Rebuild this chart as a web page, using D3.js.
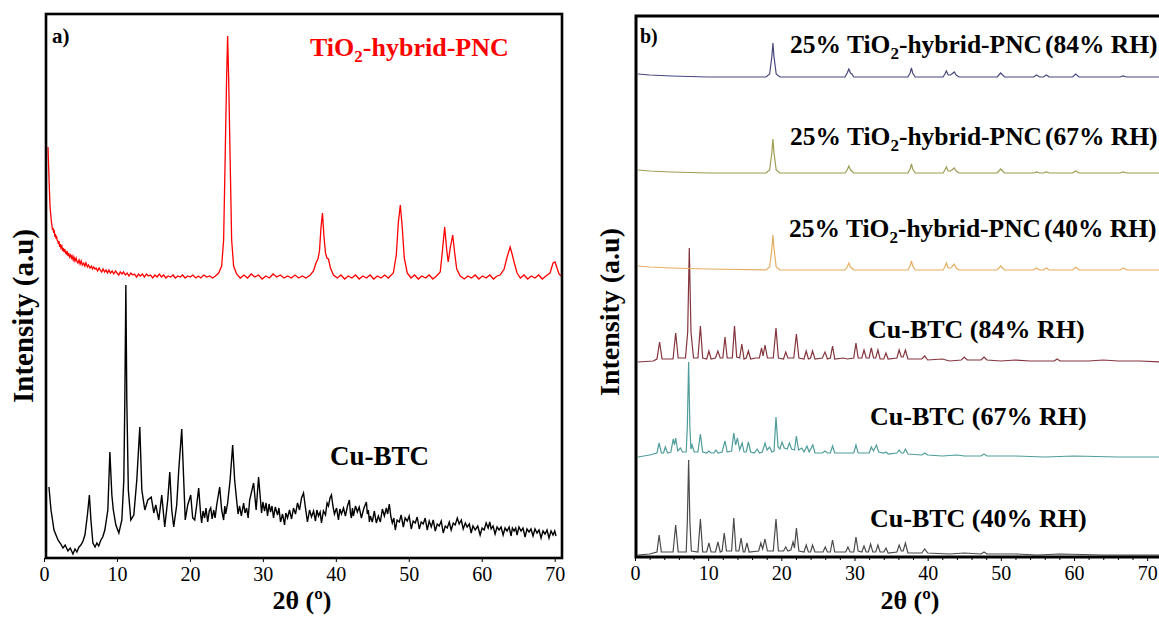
<!DOCTYPE html>
<html>
<head>
<meta charset="utf-8">
<script src="https://cdn.jsdelivr.net/npm/d3@7.9.0/dist/d3.min.js"></script>
<style>
  body { margin: 0; background: #fff; }
  svg { display: block; font-family: "Liberation Serif", "Times New Roman", serif; }
</style>
</head>
<body>
<svg width="1159" height="618"></svg>
<script>
// ---- data: [2theta (deg), intensity (a.u.)] ----
const ticksA = [0, 10, 20, 30, 40, 50, 60, 70];
const ticksB = [0, 10, 20, 30, 40, 50, 60, 70];

// panel a, TiO2-hybrid-PNC (red)
const tio2A = [[0.55,411],[0.6,398],[0.66,386],[0.72,372],[0.78,360],[0.84,350],[0.92,344],[1.0,337],[1.08,333],[1.16,328],[1.25,330],[1.33,325],[1.4,328],[1.5,321],[1.57,324],[1.66,319],[1.72,322],[1.8,318],[1.9,317],[1.98,314],[2.05,317],[2.15,311],[2.25,314],[2.32,310],[2.45,312],[2.55,307],[2.62,310],[2.75,306],[2.85,309],[2.95,305],[3.05,304],[3.15,307],[3.3,302],[3.4,305],[3.5,301],[3.65,303],[3.75,300],[3.85,302],[4.0,298],[4.1,301],[4.25,297],[4.4,300],[4.5,297],[4.65,295],[4.8,298],[4.95,294],[5.1,297],[5.25,293],[5.45,295],[5.6,292],[5.75,295],[5.95,291],[6.1,293],[6.3,290],[6.5,292],[6.65,289],[6.8,291],[7.0,289],[7.15,290],[7.35,287],[7.55,290],[7.7,288],[7.9,286],[8.1,289],[8.3,286],[8.5,288],[8.7,285],[8.9,288],[9.1,285],[9.35,287],[9.55,284],[9.8,287],[10.0,285],[10.25,283],[10.45,286],[10.7,284],[10.9,286],[11.15,283],[11.4,285],[11.65,282],[11.9,285],[12.15,283],[12.4,284],[12.7,281],[12.95,284],[13.2,282],[13.5,284],[13.75,281],[14.05,284],[14.3,282],[14.6,283],[14.9,280],[15.2,283],[15.5,281],[15.8,284],[16.1,281],[16.4,283],[16.7,280],[17.0,282],[17.35,281],[17.7,283],[18.0,280],[18.35,282],[18.7,281],[19.0,283],[19.35,280],[19.7,282],[20.05,281],[20.4,283],[20.8,280],[21.15,282],[21.5,280],[21.9,283],[22.3,281],[22.7,282],[23.1,280],[23.5,282],[23.94,285],[24.35,292],[24.62,318],[24.83,400],[25.03,480],[25.17,522],[25.31,480],[25.51,400],[25.72,318],[25.99,292],[26.4,284],[26.9,280],[27.4,283],[27.9,280],[28.4,284],[28.9,281],[29.4,283],[29.9,279],[30.4,282],[30.9,280],[31.4,284],[31.9,281],[32.4,283],[32.9,280],[33.4,282],[33.9,280],[34.4,283],[34.9,280],[35.4,282],[35.9,280],[36.5,283],[36.94,287],[37.28,295],[37.55,299],[37.76,307],[37.96,330],[38.17,345],[38.37,322],[38.58,305],[38.78,300],[38.99,299],[39.26,290],[39.67,283],[40.2,280],[40.7,283],[41.2,279],[41.7,282],[42.2,280],[42.7,283],[43.2,279],[43.7,282],[44.2,280],[44.7,283],[45.2,279],[45.7,282],[46.2,280],[46.7,283],[47.2,280],[47.88,285],[48.29,303],[48.56,335],[48.84,353],[49.11,330],[49.38,300],[49.79,285],[50.3,280],[50.8,283],[51.3,279],[51.8,282],[52.3,280],[52.8,283],[53.3,279],[53.8,282],[54.31,286],[54.58,305],[54.92,331],[55.2,308],[55.4,296],[55.68,310],[56.02,323],[56.29,305],[56.57,289],[57.05,282],[57.6,279],[58.1,282],[58.6,280],[59.1,283],[59.6,279],[60.1,282],[60.6,280],[61.1,283],[61.6,279],[62.1,282],[62.52,283],[63.07,289],[63.48,301],[63.89,311],[64.16,304],[64.5,294],[64.84,285],[65.3,280],[65.8,283],[66.3,279],[66.8,282],[67.3,280],[67.8,283],[68.3,279],[68.81,282],[69.36,285],[69.77,295],[70.04,296],[70.32,290],[70.59,284],[70.86,282]];

// panel a, Cu-BTC (black)
const cubtcA = [[0.68,71],[0.96,48],[1.37,28],[1.92,18],[2.3,14],[2.6,10],[2.9,13],[3.28,7],[3.6,10],[3.97,4],[4.25,9],[4.51,6],[4.8,11],[5.06,13],[5.35,17],[5.61,23],[5.95,43],[6.22,63],[6.43,38],[6.7,15],[7.0,11],[7.25,15],[7.5,12],[7.8,18],[8.05,21],[8.34,28],[8.75,48],[9.03,106],[9.3,63],[9.5,48],[9.85,33],[10.26,25],[10.67,38],[10.94,78],[11.08,158],[11.22,273],[11.35,158],[11.56,68],[11.9,38],[12.31,43],[12.72,78],[13.13,131],[13.41,68],[13.82,48],[14.23,58],[14.7,61],[15.05,45],[15.32,53],[15.73,38],[16.14,63],[16.55,31],[16.96,58],[17.24,86],[17.51,48],[17.78,31],[18.19,53],[18.47,88],[18.88,129],[19.15,78],[19.36,38],[19.7,53],[20.11,63],[20.38,40],[20.66,38],[20.93,53],[21.2,70],[21.48,43],[21.61,35],[21.8,47],[22.02,40],[22.2,50],[22.44,36],[22.65,47],[22.85,50],[23.05,39],[23.26,48],[23.45,40],[23.67,53],[24.08,71],[24.35,48],[24.62,38],[24.78,52],[24.9,44],[25.17,55],[25.51,78],[25.86,113],[26.13,78],[26.4,58],[26.6,44],[26.81,52],[27.05,42],[27.36,55],[27.55,45],[27.77,50],[27.98,40],[28.19,58],[28.73,75],[29.08,48],[29.41,81],[29.82,45],[30.0,56],[30.23,47],[30.44,55],[30.64,42],[30.85,54],[31.05,46],[31.25,52],[31.46,40],[31.7,51],[32.01,43],[32.2,50],[32.42,36],[32.7,44],[32.97,33],[33.15,45],[33.38,40],[33.65,48],[33.93,39],[34.2,50],[34.47,44],[34.75,55],[35.02,48],[35.3,60],[35.57,65],[35.84,50],[36.11,36],[36.4,48],[36.66,41],[36.95,47],[37.21,37],[37.4,48],[37.62,42],[37.85,46],[38.03,35],[38.3,47],[38.58,43],[38.8,55],[38.99,52],[39.2,60],[39.4,63],[39.6,52],[39.81,44],[40.1,50],[40.36,38],[40.55,49],[40.77,44],[41.05,50],[41.31,42],[41.6,52],[41.86,58],[42.0,45],[42.13,40],[42.28,50],[42.41,42],[42.7,52],[42.95,46],[43.2,51],[43.5,40],[43.85,50],[44.19,56],[44.32,44],[44.46,48],[44.6,36],[44.73,42],[45.0,36],[45.28,47],[45.55,35],[45.83,42],[46.1,36],[46.38,49],[46.65,42],[46.92,50],[47.1,44],[47.33,54],[47.55,41],[47.74,35],[47.95,40],[48.15,28],[48.4,38],[48.7,36],[48.95,43],[49.25,31],[49.5,40],[49.8,37],[50.05,42],[50.34,29],[50.6,37],[50.89,35],[51.15,41],[51.44,29],[51.7,36],[51.98,34],[52.25,40],[52.53,28],[52.8,37],[53.08,31],[53.35,38],[53.63,27],[53.9,34],[54.17,32],[54.45,37],[54.72,25],[55.0,32],[55.27,30],[55.55,36],[55.81,28],[56.1,35],[56.36,33],[56.65,40],[56.91,34],[57.2,38],[57.46,29],[57.75,35],[58.0,31],[58.3,34],[58.55,25],[58.8,32],[59.1,28],[59.45,32],[59.78,23],[60.05,30],[60.33,28],[60.6,35],[60.88,30],[61.1,36],[61.29,29],[61.55,32],[61.83,24],[62.1,31],[62.38,28],[62.65,31],[62.93,23],[63.2,30],[63.47,27],[63.75,31],[64.02,22],[64.2,30],[64.43,27],[64.65,30],[64.84,23],[65.1,31],[65.39,27],[65.65,30],[65.94,21],[66.2,29],[66.48,26],[66.75,29],[67.03,22],[67.3,29],[67.58,25],[67.85,28],[68.13,20],[68.4,27],[68.67,24],[68.95,28],[69.22,20],[69.5,27],[69.77,23],[70.0,27],[70.18,22]];

// panel b, stacked patterns (values above their own baseline) and stack offsets
const tio2_84B = [[0.4,3],[2,2],[5,1],[10,0],[15,0],[17.9,0],[18.4,3],[18.7,20],[18.85,34],[19.0,20],[19.3,3],[19.8,0],[25,0],[28.7,0],[29.0,4],[29.23,8],[29.45,4],[29.63,3],[29.9,0],[35,0],[37.3,0],[37.6,4],[37.78,9],[37.95,4],[38.3,0],[42.1,0],[42.35,3],[42.56,6],[42.8,2],[43.1,2],[43.3,3],[43.64,5],[43.9,2],[44.3,0],[49.5,0],[49.98,4],[50.5,0],[54.5,0],[54.86,2],[55.3,0],[55.8,0],[56.23,2],[56.6,0],[59.8,0],[60.23,3],[60.7,0],[66.3,0],[66.72,1],[67.2,0],[72,0]];
const tio2_67B = [[0.4,3],[2,2],[5,1],[10,0],[17.9,0],[18.4,3],[18.7,20],[18.85,34],[19.0,20],[19.3,3],[19.8,0],[28.7,0],[29.0,3],[29.23,7],[29.45,3],[29.63,2],[29.9,0],[37.3,0],[37.6,4],[37.78,9],[37.95,4],[38.3,0],[42.1,0],[42.35,3],[42.56,6],[42.8,2],[43.1,2],[43.3,3],[43.64,5],[43.9,2],[44.3,0],[49.5,0],[49.98,4],[50.5,0],[54.5,0],[54.86,1],[55.3,0],[55.8,0],[56.23,1],[56.6,0],[59.8,0],[60.23,2],[60.7,0],[66.3,0],[66.72,1],[67.2,0],[72,0]];
const tio2_40B = [[0.4,4],[2,3],[5,2],[10,1],[17.9,0],[18.4,3],[18.7,21],[18.85,35],[19.0,21],[19.3,3],[19.8,0],[28.7,0],[29.0,3],[29.23,7],[29.45,3],[29.63,2],[29.9,0],[37.3,0],[37.6,4],[37.78,9],[37.95,4],[38.3,0],[42.1,0],[42.35,3],[42.56,7],[42.8,2],[43.1,2],[43.3,3],[43.64,6],[43.9,2],[44.3,0],[49.5,0],[49.98,4],[50.5,0],[54.5,0],[54.86,2],[55.3,0],[55.8,0],[56.23,2],[56.6,0],[59.8,0],[60.23,3],[60.7,0],[66.3,0],[66.72,2],[67.2,0],[72,0]];
const cubtc_84B = [[0.4,0],[2.5,1],[3.0,3],[3.36,20],[3.7,3],[5.2,3],[5.56,29],[5.9,4],[6.9,4],[7.2,30],[7.42,114],[7.65,30],[8.0,4],[8.6,4],[8.94,36],[9.25,4],[9.8,3],[10.1,11],[10.4,3],[11.0,4],[11.33,11],[11.65,4],[12.0,4],[12.3,25],[12.6,4],[13.3,4],[13.6,36],[13.9,5],[14.3,4],[14.6,18],[14.9,3],[15.2,4],[15.5,11],[15.8,3],[16.5,4],[17.0,4],[17.3,14],[17.5,6],[17.77,17],[18.1,4],[18.9,4],[19.27,34],[19.6,4],[20.3,3],[20.6,10],[20.9,4],[21.7,4],[22.06,28],[22.4,4],[23.1,3],[23.4,11],[23.7,3],[24.0,4],[24.26,11],[24.6,3],[25.6,4],[25.97,10],[26.3,3],[26.7,4],[27.0,16],[27.3,3],[28.5,4],[29.0,3],[29.9,4],[30.2,19],[30.5,4],[31.0,4],[31.3,12],[31.6,4],[32.0,4],[32.3,14],[32.6,4],[32.9,4],[33.2,12],[33.5,3],[34.0,3],[34.3,9],[34.6,3],[35.8,4],[36.1,12],[36.4,5],[36.65,5],[36.96,12],[37.3,3],[39.2,3],[39.6,6],[40.0,2],[42,3],[43,1],[44.6,2],[45,5],[45.4,2],[47.3,2],[47.7,5],[48.1,2],[50,1],[52,2],[54,1],[57.3,1],[57.7,3],[58.1,1],[62,1],[64,2],[66,1],[69,1],[72,0]];
const cubtc_67B = [[0.4,0],[2.0,2],[3.0,4],[3.3,14],[3.6,4],[3.9,4],[4.15,10],[4.45,4],[4.9,5],[5.22,18],[5.4,12],[5.56,19],[5.85,6],[6.2,9],[6.5,5],[7.0,5],[7.15,30],[7.33,95],[7.5,30],[7.65,8],[7.8,12],[8.1,5],[8.6,5],[8.94,23],[9.25,5],[9.8,4],[10.1,6],[10.4,4],[10.8,4],[11.05,7],[11.35,4],[11.9,5],[12.3,16],[12.6,5],[13.2,6],[13.5,24],[13.75,12],[14.0,19],[14.3,7],[14.64,14],[14.9,5],[15.2,5],[15.5,15],[15.8,5],[16.3,4],[16.7,8],[17.0,4],[17.4,5],[17.77,14],[18.05,7],[18.4,10],[18.7,5],[19.0,6],[19.27,40],[19.55,10],[19.8,8],[20.1,15],[20.4,9],[20.8,8],[21.1,14],[21.4,8],[21.8,7],[22.06,21],[22.35,7],[22.8,9],[23.1,5],[23.5,11],[23.8,5],[24.3,12],[24.6,4],[25.6,4],[25.97,6],[26.3,4],[26.7,4],[27.0,11],[27.3,4],[28.5,4],[29.9,4],[30.2,12],[30.5,4],[31.5,4],[32.0,4],[32.3,10],[32.6,6],[33.0,12],[33.3,5],[34.0,4],[34.3,5],[34.6,3],[35.8,4],[36.1,7],[36.4,4],[36.7,4],[36.96,8],[37.3,3],[39.2,2],[39.6,4],[40.0,2],[42,1],[44,2],[45,1],[47.3,1],[47.7,3],[48.1,1],[52,1],[56,0],[60,1],[66,0],[72,0]];
const cubtc_40B = [[0.4,2],[2.0,3],[3.0,5],[3.3,22],[3.6,5],[5.2,5],[5.56,32],[5.9,5],[7.0,5],[7.15,35],[7.33,97],[7.5,35],[7.7,6],[8.6,5],[8.94,38],[9.25,5],[9.8,5],[10.1,14],[10.4,5],[11.0,5],[11.33,15],[11.65,5],[11.9,6],[12.2,24],[12.5,6],[13.2,6],[13.5,39],[13.8,6],[14.2,6],[14.5,19],[14.8,5],[15.0,5],[15.3,14],[15.6,5],[16.9,6],[17.2,14],[17.45,8],[17.77,18],[18.1,6],[18.9,6],[19.27,38],[19.6,6],[20.3,6],[20.6,10],[20.9,6],[21.3,7],[21.6,15],[21.8,9],[22.06,29],[22.4,6],[23.1,5],[23.4,12],[23.7,5],[24.0,5],[24.26,12],[24.6,5],[25.7,5],[26.0,10],[26.3,5],[26.7,5],[27.0,17],[27.3,5],[28.8,5],[29.1,10],[29.4,5],[29.9,5],[30.2,20],[30.5,6],[31.0,5],[31.3,11],[31.6,5],[31.9,5],[32.2,13],[32.5,5],[32.9,5],[33.2,12],[33.5,5],[34.0,5],[34.3,9],[34.6,4],[35.8,5],[36.1,12],[36.4,6],[36.65,6],[36.96,14],[37.3,4],[39.2,4],[39.6,8],[40.0,4],[43,3],[45,4],[47.3,3],[47.7,5],[48.1,3],[52,3],[55,2],[58,3],[64,2],[72,2]];

const seriesB = [cubtc_40B, cubtc_67B, cubtc_84B, tio2_40B, tio2_67B, tio2_84B];
const offsetsB = [0, 100, 195, 287, 384, 480];
const labelsB = ['Cu-BTC (40% RH)', 'Cu-BTC (67% RH)', 'Cu-BTC (84% RH)',
  '25% TiO2-hybrid-PNC(40% RH)', '25% TiO2-hybrid-PNC(67% RH)', '25% TiO2-hybrid-PNC(84% RH)'];

// ---- styles ----
const colorsB = ['#4a4a4a', '#4f9d9b', '#84343c', '#e3ae62', '#9c9c52', '#47477f'];
const labelPosB = [[870, 527], [870, 425], [868, 338], [789, 237], [790, 145], [790, 53]];

const svg = d3.select('svg');
const bold = 'bold';
const serif = '"Liberation Serif", "Times New Roman", serif';

// ---- panel a ----
const xA = d3.scaleLinear().domain([0, 71]).range([44, 562]);
const yA = d3.scaleLinear().domain([0, 544]).range([558, 14]);
const lineA = d3.line().x(d => xA(d[0])).y(d => yA(d[1]));

svg.append('clipPath').attr('id', 'clipA')
  .append('rect').attr('x', 47).attr('y', 15).attr('width', 514).attr('height', 542);

const gA = svg.append('g').attr('clip-path', 'url(#clipA)');
gA.append('path').datum(tio2A).attr('d', lineA)
  .attr('fill', 'none').attr('stroke', '#ff0000').attr('stroke-width', 1.3);
gA.append('path').datum(cubtcA).attr('d', lineA)
  .attr('fill', 'none').attr('stroke', '#000').attr('stroke-width', 1.4);

svg.append('rect').attr('x', 46).attr('y', 14).attr('width', 516).attr('height', 544)
  .attr('fill', 'none').attr('stroke', '#000').attr('stroke-width', 2.6);

const axA = svg.append('g').attr('transform', 'translate(0,558)')
  .call(d3.axisBottom(xA).tickValues(ticksA).tickSize(4).tickPadding(5))
  .attr('font-family', serif);
axA.select('.domain').remove();
axA.selectAll('line').attr('stroke', '#000');
axA.selectAll('text').attr('font-size', 20).attr('fill', '#000');

svg.append('text').attr('x', 52).attr('y', 43).attr('font-size', 21).attr('font-weight', bold).text('a)');

const tiLabel = svg.append('text').attr('x', 310).attr('y', 56)
  .attr('font-size', 26).attr('font-weight', bold).attr('fill', '#ff0000');
tiLabel.append('tspan').text('TiO');
tiLabel.append('tspan').attr('font-size', 17).attr('dy', 6).text('2');
tiLabel.append('tspan').attr('dy', -6).text('-hybrid-PNC');

svg.append('text').attr('x', 330).attr('y', 465).attr('font-size', 27).attr('font-weight', bold).text('Cu-BTC');

svg.append('text').attr('transform', 'translate(33,316) rotate(-90)')
  .attr('text-anchor', 'middle').attr('font-size', 29).attr('font-weight', bold).text('Intensity (a.u)');
svg.append('text').attr('x', 302).attr('y', 609).attr('text-anchor', 'middle')
  .attr('font-size', 26).attr('font-weight', bold).text('2θ (º)');

// ---- panel b ----
const xB = d3.scaleLinear().domain([0, 72]).range([635, 1161.8]);
const yB = d3.scaleLinear().domain([0, 541]).range([557, 16]);

svg.append('clipPath').attr('id', 'clipB')
  .append('rect').attr('x', 637).attr('y', 17).attr('width', 600).attr('height', 539);

const gB = svg.append('g').attr('clip-path', 'url(#clipB)');
seriesB.forEach((s, i) => {
  const line = d3.line().x(d => xB(d[0])).y(d => yB(d[1] + offsetsB[i]));
  gB.append('path').datum(s).attr('d', line)
    .attr('fill', 'none').attr('stroke', colorsB[i]).attr('stroke-width', 1.2);
});

svg.append('rect').attr('x', 636).attr('y', 16).attr('width', 600).attr('height', 541)
  .attr('fill', 'none').attr('stroke', '#000').attr('stroke-width', 3);

const axB = svg.append('g').attr('transform', 'translate(0,557)')
  .call(d3.axisBottom(xB).tickValues(ticksB).tickSize(4).tickPadding(5))
  .attr('font-family', serif);
axB.select('.domain').remove();
axB.selectAll('line').attr('stroke', '#000');
axB.selectAll('text').attr('font-size', 20).attr('fill', '#000');
const minorB = svg.append('g').attr('transform', 'translate(0,557)')
  .call(d3.axisBottom(xB).tickValues(d3.range(0, 72, 2).filter(v => v % 10 !== 0)).tickSize(3).tickFormat(''));
minorB.select('.domain').remove();
minorB.selectAll('line').attr('stroke', '#000');

svg.append('text').attr('x', 640).attr('y', 43).attr('font-size', 20).attr('font-weight', bold).text('b)');

labelsB.forEach((lab, i) => {
  const t = svg.append('text').attr('x', labelPosB[i][0]).attr('y', labelPosB[i][1])
    .attr('font-size', i > 2 ? 25.5 : 26).attr('font-weight', bold);
  const k = lab.indexOf('TiO2');
  if (k < 0) { t.text(lab); return; }
  t.append('tspan').text(lab.slice(0, k + 3));
  t.append('tspan').attr('font-size', 17).attr('dy', 6).text('2');
  const rest = lab.slice(k + 4);
  const p = rest.indexOf('(');
  t.append('tspan').attr('dy', -6).text(rest.slice(0, p));
  t.append('tspan').attr('dx', 3).text(rest.slice(p));
});

svg.append('text').attr('transform', 'translate(619,312) rotate(-90)')
  .attr('text-anchor', 'middle').attr('font-size', 28).attr('font-weight', bold).text('Intensity (a.u)');
svg.append('text').attr('x', 910).attr('y', 609).attr('text-anchor', 'middle')
  .attr('font-size', 26).attr('font-weight', bold).text('2θ (º)');
</script>
</body>
</html>
